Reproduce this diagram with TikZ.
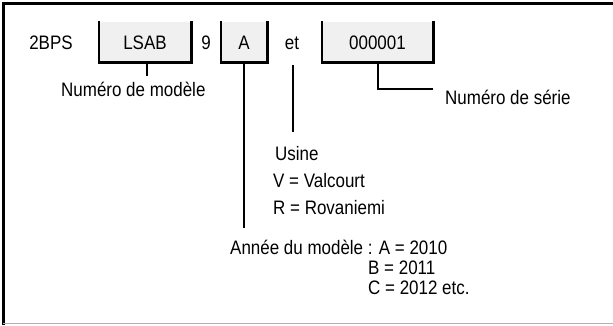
\documentclass[tikz,border=0pt]{standalone}
\usepackage{fontspec}
\setmainfont[FakeStretch=0.87]{Liberation Sans}
\begin{document}
\begin{tikzpicture}[x=1pt,y=-1pt,
  lbl/.style={inner sep=0pt,anchor=base west,font=\fontsize{19.5}{22}\selectfont},
  ctr/.style={inner sep=0pt,anchor=base,font=\fontsize{19.5}{22}\selectfont},
  codebox/.style={fill=black!6,draw=none,inner sep=0pt,minimum height=40pt,font=\fontsize{19.5}{22}\selectfont},
  boxline/.style={line width=2.6pt,line cap=rect},
  conn/.style={line width=2.6pt}]
\useasboundingbox (0,0) rectangle (613,325);
% frame
\draw[line width=3pt] (3,325) -- (3,3) -- (613,3);
\draw[line width=1.5pt,black!30] (3,323.5) -- (613,323.5);
% boxes
\node[codebox,minimum width=92pt] (lsab) at (145,42) {};
\node[codebox,minimum width=46pt] (abox) at (244,42) {};
\node[codebox,minimum width=111pt] (ser) at (377.5,42) {};
\foreach \b in {lsab,abox,ser}{
  \draw[boxline] (\b.north west) -- (\b.south west) -- (\b.south east) -- (\b.north east);
}
% code texts
\node[ctr] (t2bps) at (51,49) {2BPS};
\node[ctr] (tlsab) at (145,49) {LSAB};
\node[ctr] (t9) at (206,49) {9};
\node[ctr] (ta) at (244,49) {A};
\node[ctr] (tet) at (292,49) {et};
\node[ctr] (tser) at (377.5,49) {000001};
% labels
\node[lbl] (modele) at (61,96) {Numéro de modèle};
\node[lbl] (serie) at (445,104) {Numéro de série};
\node[lbl] (usine) at (275,160) {Usine};
\node[lbl] (valc) at (273,187) {V = Valcourt};
\node[lbl] (rova) at (273,214) {R = Rovaniemi};
\node[lbl] (annee) at (230,254) {Année du modèle : A = 2010};
\node[lbl] (b2011) at (368,274) {B = 2011};
\node[lbl] (c2012) at (368,294) {C = 2012 etc.};
% connectors
\coordinate (lsabend) at (147,76);
\draw[conn] (lsab.south -| lsabend) -- (lsabend);
\coordinate (aend) at (244,228);
\draw[conn] (abox.south) -- (aend);
\coordinate (ettop) at (293,65);
\coordinate (etbot) at (293,132);
\draw[conn] (ettop) -- (etbot);
\coordinate (serturn) at (378,89);
\coordinate (serend) at (433,89);
\draw[conn] (ser.south -| serturn) -- (serturn) -- (serend);
\end{tikzpicture}
\end{document}
